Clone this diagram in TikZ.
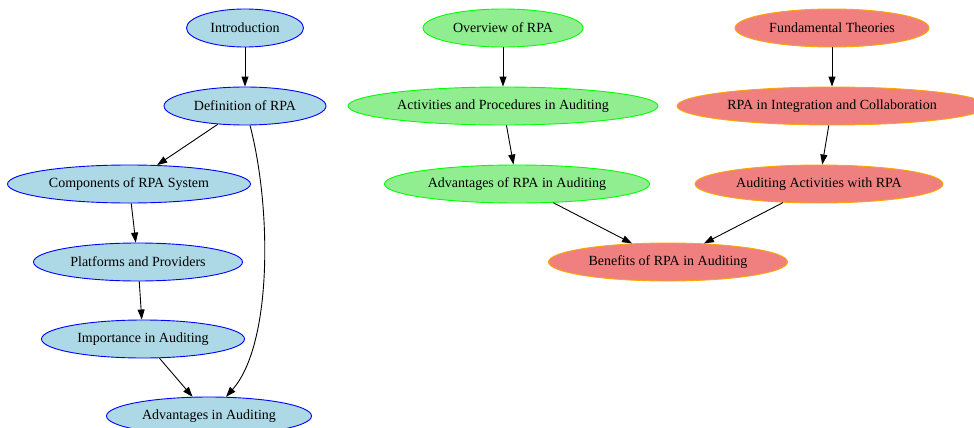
\documentclass[tikz,border=0pt]{standalone}
\usepackage{fontspec}
\setmainfont{Liberation Serif}
\usetikzlibrary{shapes.geometric,arrows.meta}
\definecolor{lblue}{HTML}{ADD8E6}
\definecolor{lgreen}{HTML}{90EE90}
\definecolor{lcoral}{HTML}{F08080}
\definecolor{dgreen}{HTML}{00FF00}
\definecolor{dorange}{HTML}{FFA500}
\begin{document}
\begin{tikzpicture}[x=1pt,y=-1pt,
    nd/.style={ellipse,inner sep=0pt,minimum height=38pt,line width=0.9pt,
      font=\fontsize{14}{16}\selectfont},
    blu/.style={nd,draw=blue,fill=lblue},
    grn/.style={nd,draw=dgreen,fill=lgreen},
    red/.style={nd,draw=dorange,fill=lcoral},
    edge/.style={-{Triangle[length=10pt,width=7pt]},line width=0.9pt}]
  \useasboundingbox (0,0) rectangle (974,428);

  % left column
  \node[blu,minimum width=117pt] (intro) at (245,28) {Introduction};
  \node[blu,minimum width=162pt] (def) at (245,106) {Definition of RPA};
  \node[blu,minimum width=243pt] (comp) at (129,184) {Components of RPA System};
  \node[blu,minimum width=209pt] (plat) at (138,262) {Platforms and Providers};
  \node[blu,minimum width=203pt] (imp) at (143,339) {Importance in Auditing};
  \node[blu,minimum width=205pt] (adv) at (209,416) {Advantages in Auditing};

  % middle column
  \node[grn,minimum width=160pt] (over) at (503,28) {Overview of RPA};
  \node[grn,minimum width=310pt] (act) at (503,106) {Activities and Procedures in Auditing};
  \node[grn,minimum width=265pt] (advrpa) at (517,184) {Advantages of RPA in Auditing};

  % right column
  \node[red,minimum width=194pt] (fund) at (832,28) {Fundamental Theories};
  \node[red,minimum width=310pt] (integ) at (832,106) {RPA in Integration and Collaboration};
  \node[red,minimum width=248pt] (audact) at (819,184) {Auditing Activities with RPA};
  \node[red,minimum width=239pt] (ben) at (668,262) {Benefits of RPA in Auditing};

  \draw[edge] (intro) -- (def);
  \draw[edge] (def) -- (comp);
  \draw[edge] (def) .. controls (272,210) and (272,345) .. (adv);
  \draw[edge] (comp) -- (plat);
  \draw[edge] (plat) -- (imp);
  \draw[edge] (imp) -- (adv);
  \draw[edge] (over) -- (act);
  \draw[edge] (act) -- (advrpa);
  \draw[edge] (advrpa) -- (ben);
  \draw[edge] (fund) -- (integ);
  \draw[edge] (integ) -- (audact);
  \draw[edge] (audact) -- (ben);
\end{tikzpicture}
\end{document}
